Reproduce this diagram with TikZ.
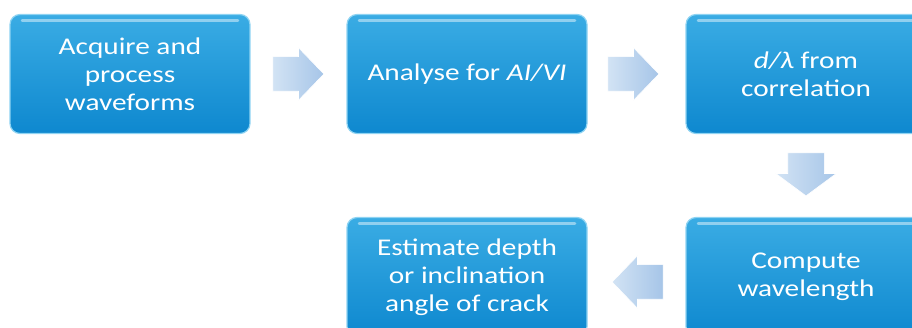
\documentclass[tikz,border=0pt]{standalone}
\usepackage{fontspec}
\setmainfont{Carlito}[FakeStretch=1.22]
\usetikzlibrary{positioning,shapes.arrows,calc}

\definecolor{boxtop}{HTML}{3AACE4}
\definecolor{boxbot}{HTML}{0E88CF}
\definecolor{boxrim}{HTML}{8ED3F2}
\definecolor{arrlight}{HTML}{D2E3F4}
\definecolor{arrdark}{HTML}{A6C5E8}

\begin{document}
\begin{tikzpicture}[
  x=1pt, y=1pt,
  font=\fontsize{24}{28}\selectfont,
  stepbox/.style={rectangle, rounded corners=10pt, draw=boxrim, line width=1.2pt,
                  top color=boxtop, bottom color=boxbot, text=white, align=center,
                  minimum width=240pt, minimum height=119pt, inner sep=2pt,
                  path picture={\draw[white, opacity=.45, line width=2.5pt, line cap=round]
                    ($(path picture bounding box.north west)+(12,-6)$) --
                    ($(path picture bounding box.north east)+(-12,-6)$);}},
  flow/.style={single arrow, single arrow head extend=9pt, single arrow tip angle=92,
               text height=17pt, text depth=17pt, text width=0pt,
               minimum height=51pt, inner sep=0pt, anchor=tail,
               left color=arrlight, right color=arrdark, draw=white, line width=0.6pt}
]
\clip (0,0) rectangle (912,-328);

\node[stepbox] (acq) at (130,-74)  {Acquire and\\process\\waveforms};
\node[stepbox] (ana) at (467,-74)  {Analyse for \textit{AI/VI}};
\node[stepbox] (cor) at (806,-74)  {\textit{d/λ} from\\correlation};
\node[stepbox] (wav) at (806,-277) {Compute\\wavelength};
\node[stepbox] (est) at (467,-277) {Estimate depth\\or inclination\\angle of crack};

\node[flow] (f1) at ($(acq.east)+(22,0)$) {};
\node[flow] (f2) at ($(ana.east)+(20,0)$) {};
\node[flow, rotate=-90, text height=18pt, text depth=18pt, minimum height=43pt,
      single arrow head extend=12pt, single arrow tip angle=107]
      (f3) at ($(cor.south)+(0,-18.5)$) {};
\node[flow, rotate=180] (f4) at ($(wav.west)+(-22,-5)$) {};
\end{tikzpicture}
\end{document}
